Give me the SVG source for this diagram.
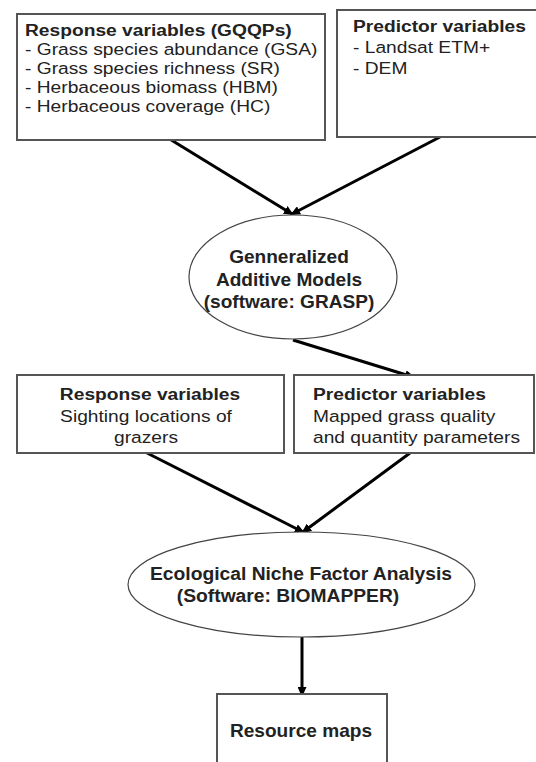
<svg xmlns="http://www.w3.org/2000/svg" width="536" height="762" viewBox="0 0 536 762">
<style>
.box{fill:#fff;stroke:#555;stroke-width:2}
.ell{fill:#fff;stroke:#444;stroke-width:1.2}
.t{font-family:"Liberation Sans",Arial,sans-serif;fill:#222}
.bd{font-weight:bold}
.s1{font-size:17px}
.s2{font-size:18px}
.c{text-anchor:middle}
.con{stroke:#000;stroke-width:3;fill:none;marker-end:url(#ah)}
</style>
<defs>
<marker id="ah" markerUnits="userSpaceOnUse" markerWidth="10" markerHeight="9" refX="8" refY="4.5" orient="auto">
<path d="M0,0 L10,4.5 L0,9 z" fill="#000"/>
</marker>
</defs>
<rect width="536" height="762" fill="#fff"/>
<g id="connectors">
<line class="con" x1="168" y1="138" x2="292" y2="214"/>
<line class="con" x1="440" y1="137" x2="292" y2="214"/>
<line class="con" x1="293" y1="340" x2="413" y2="377"/>
<line class="con" x1="147" y1="453" x2="303" y2="532"/>
<line class="con" x1="410" y1="453" x2="303" y2="532"/>
<line class="con" x1="302" y1="637" x2="302" y2="695"/>
</g>
<g id="response-gqqps">
<rect class="box" x="17" y="14" width="308" height="126"/>
<text class="t bd s1" transform="matrix(1.13 0 0 1 25 35.5)">Response variables (GQQPs)</text>
<text class="t s1" transform="matrix(1.13 0 0 1 25 55)">- Grass species abundance (GSA)</text>
<text class="t s1" transform="matrix(1.13 0 0 1 25 74)">- Grass species richness (SR)</text>
<text class="t s1" transform="matrix(1.13 0 0 1 25 92.7)">- Herbaceous biomass (HBM)</text>
<text class="t s1" transform="matrix(1.13 0 0 1 25 111.5)">- Herbaceous coverage (HC)</text>
</g>
<g id="predictor-landsat">
<rect class="box" x="337" y="10" width="200" height="127"/>
<text class="t bd s1" transform="matrix(1.13 0 0 1 353 31.5)">Predictor variables</text>
<text class="t s1" transform="matrix(1.13 0 0 1 353 53)">- Landsat ETM+</text>
<text class="t s1" transform="matrix(1.13 0 0 1 353 74)">- DEM</text>
</g>
<g id="gam">
<ellipse class="ell" cx="293" cy="277" rx="104" ry="62"/>
<text class="t bd s2 c" transform="matrix(1.06 0 0 1 289 263)">Genneralized</text>
<text class="t bd s2 c" transform="matrix(1.06 0 0 1 289 286)">Additive Models</text>
<text class="t bd s2 c" transform="matrix(1.06 0 0 1 289 308)">(software: GRASP)</text>
</g>
<g id="response-sightings">
<rect class="box" x="17" y="375" width="267" height="78"/>
<text class="t bd s1 c" transform="matrix(1.13 0 0 1 150 400)">Response variables</text>
<text class="t s1 c" transform="matrix(1.13 0 0 1 146 422)">Sighting locations of</text>
<text class="t s1 c" transform="matrix(1.13 0 0 1 146 443)">grazers</text>
</g>
<g id="predictor-mapped">
<rect class="box" x="294" y="375" width="240" height="78"/>
<text class="t bd s1" transform="matrix(1.13 0 0 1 313 400)">Predictor variables</text>
<text class="t s1" transform="matrix(1.13 0 0 1 313 422)">Mapped grass quality</text>
<text class="t s1" transform="matrix(1.13 0 0 1 313 443)">and quantity parameters</text>
</g>
<g id="enfa">
<ellipse class="ell" cx="301.5" cy="584.5" rx="173.5" ry="52.5"/>
<text class="t bd s2 c" transform="matrix(1.07 0 0 1 301 580)">Ecological Niche Factor Analysis</text>
<text class="t bd s2 c" transform="matrix(1.07 0 0 1 288 602)">(Software: BIOMAPPER)</text>
</g>
<g id="resource-maps">
<rect class="box" x="217" y="694" width="170" height="80"/>
<text class="t bd s2 c" transform="matrix(1.06 0 0 1 301 737)">Resource maps</text>
</g>
</svg>
